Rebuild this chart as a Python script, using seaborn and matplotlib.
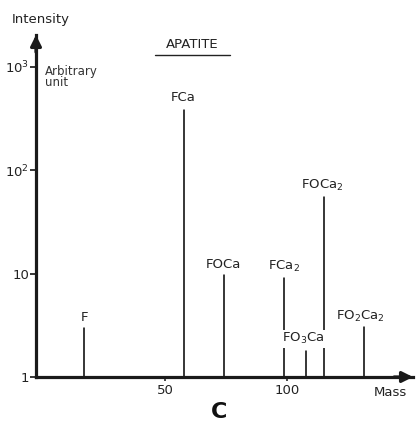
import matplotlib
matplotlib.use("Agg")
import matplotlib.pyplot as plt
import seaborn as sns
import pandas as pd
import numpy as np

# ---- data ----
ions = ["F", "FCa", "FOCa", "FCa$_2$", "FO$_3$Ca", "FOCa$_2$", "FO$_2$Ca$_2$"]
mass = [16.5, 57.5, 74.0, 99.0, 108.0, 115.5, 132.0]
intensity = [3.0, 385.0, 9.7, 9.1, 1.8, 55.0, 3.05]
ytick_vals = [1, 10, 100, 1000]
ytick_labels = ["1", "10", "10$^2$", "10$^3$"]
xtick_vals = [50, 100]
xtick_labels = ["50", "100"]

sns.set_style("white")
plt.rcParams['font.family'] = ['DejaVu Sans']
plt.rcParams['mathtext.default'] = 'regular'

W, H = 417, 425
fig = plt.figure(figsize=(W / 100, H / 100), dpi=100)
ax = fig.add_axes([36 / W, 48 / H, 377 / W, 342 / H])
ax.set_yscale('log')

# long-format frame: each peak is a vertical stick from baseline to top
df = pd.DataFrame({
    "ion": np.repeat(ions, 2),
    "mass": np.repeat(mass, 2),
    "intensity": np.ravel(np.column_stack([np.ones(len(intensity)), intensity])),
})
sns.lineplot(data=df, x="mass", y="intensity", units="ion", estimator=None,
             sort=False, color="black", lw=1.1, ax=ax, legend=False)

ax.set_xlim(-3.3, 152)
ax.set_ylim(1, 2040)
ax.set_xlabel("")
ax.set_ylabel("")

# peak labels
offsets = {0: (0, 3), 1: (0, 4), 2: (0, 3), 3: (0, 3), 4: (-2, 3), 5: (-1.5, 3), 6: (-3, 2)}
for i, (lab, m, v) in enumerate(zip(ions, mass, intensity)):
    kw = {}
    if i == 4:
        kw = dict(bbox=dict(facecolor='white', edgecolor='none', pad=1.0), zorder=5)
    ax.annotate(lab, (m, v), xytext=offsets[i], textcoords='offset points',
                ha='center', va='bottom', fontsize=9.5, color='#222222', **kw)

# axes styling
for s in ['top', 'right']:
    ax.spines[s].set_visible(False)
for s in ['left', 'bottom']:
    ax.spines[s].set_linewidth(2.3)
    ax.spines[s].set_color('#1a1a1a')
ax.set_yticks(ytick_vals)
ax.set_yticklabels(ytick_labels, fontsize=9.5, color='#222222')
ax.minorticks_off()
ax.yaxis.set_minor_locator(matplotlib.ticker.NullLocator())
ax.set_xticks(xtick_vals)
ax.set_xticklabels(xtick_labels, fontsize=9.5, color='#222222')
ax.tick_params(axis='y', direction='out', length=4, width=1.3, pad=1, left=True)
ax.tick_params(axis='x', direction='out', length=3, width=1.2, pad=2, bottom=True)
ax.grid(False)

# arrowheads
ax.annotate('', xy=(0, 1.0), xytext=(0, 0.95), xycoords='axes fraction',
            arrowprops=dict(arrowstyle='-|>', color='#1a1a1a', lw=2.3,
                            mutation_scale=16, shrinkA=0, shrinkB=0))
ax.annotate('', xy=(1.0, 0), xytext=(0.95, 0), xycoords='axes fraction',
            arrowprops=dict(arrowstyle='-|>', color='#1a1a1a', lw=2.3,
                            mutation_scale=16, shrinkA=0, shrinkB=0))

# annotations
fig.text(12 / W, 1 - 19 / H, "Intensity", ha='left', va='center', fontsize=9.5, color='#222222')
fig.text(45 / W, 1 - 71 / H, "Arbitrary", ha='left', va='center', fontsize=8.5, color='#333333')
fig.text(45 / W, 1 - 83 / H, "unit", ha='left', va='center', fontsize=8.5, color='#333333')
fig.text(192 / W, 1 - 44 / H, "APATITE", ha='center', va='center', fontsize=9.5, color='#222222')
fig.add_artist(plt.Line2D([155 / W, 230 / W], [1 - 55 / H, 1 - 55 / H], color='#222222', lw=1.0))
fig.text(390 / W, 1 - 393 / H, "Mass", ha='center', va='center', fontsize=9.5, color='#222222')
fig.text(219 / W, 1 - 402 / H, "C", ha='center', va='top', fontsize=16, fontweight='bold',
         color='#111111')

fig.savefig("out.png", dpi=100, facecolor='white')
